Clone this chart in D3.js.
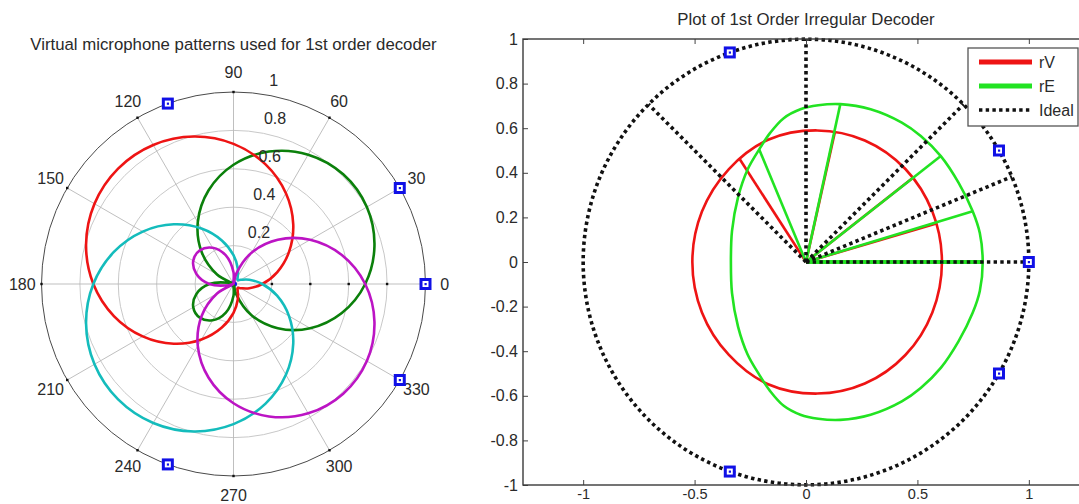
<!DOCTYPE html>
<html>
<head>
<meta charset="utf-8">
<title>1st order decoder</title>
<script src="https://cdn.jsdelivr.net/npm/d3@7"></script>
<style>
  html, body { margin: 0; padding: 0; background: #fff; }
  svg { display: block; font-family: "Liberation Sans", Arial, sans-serif; }
</style>
</head>
<body>
<div id="chart"></div>
<script>
  /**
   *  Data
   */
  // speaker layout in degrees (C, L, LS, RS, R)
  var speakerAngles = [0, 30, 110, 250, 330]

  // polar grid
  var ringValues = [0.2, 0.4, 0.6, 0.8, 1]
  var spokeAngles = [0, 30, 60, 90, 120, 150, 180, 210, 240, 270, 300, 330]

  // virtual microphone patterns, [angle deg, |gain|]
  var micC = [[0, 0.012], [90, 0.012], [180, 0.012], [270, 0.012]]
  var micL = [[0, 0.686], [15, 0.760], [30, 0.802], [45, 0.808], [60, 0.778], [75, 0.714],
    [90, 0.621], [105, 0.504], [120, 0.372], [135, 0.234], [150, 0.099], [162, 0],
    [165, 0.024], [180, 0.126], [195, 0.200], [210, 0.242], [225, 0.248], [240, 0.218],
    [255, 0.154], [270, 0.061], [278, 0], [285, 0.056], [300, 0.188], [315, 0.326],
    [330, 0.461], [345, 0.584]]
  var micR = [[0, 0.686], [15, 0.584], [30, 0.461], [45, 0.326], [60, 0.188], [75, 0.056],
    [82, 0], [90, 0.061], [105, 0.154], [120, 0.218], [135, 0.248], [150, 0.242],
    [165, 0.200], [180, 0.126], [195, 0.024], [198, 0], [210, 0.099], [225, 0.234],
    [240, 0.372], [255, 0.504], [270, 0.621], [285, 0.714], [300, 0.778], [315, 0.808],
    [330, 0.802], [345, 0.760]]
  var micLS = [[0, 0.150], [15, 0.235], [30, 0.334], [45, 0.440], [60, 0.546], [75, 0.645],
    [90, 0.730], [105, 0.795], [120, 0.836], [135, 0.850], [150, 0.836], [165, 0.795],
    [180, 0.730], [195, 0.645], [210, 0.546], [225, 0.440], [240, 0.334], [255, 0.235],
    [270, 0.150], [285, 0.085], [300, 0.044], [315, 0.030], [330, 0.044], [345, 0.085]]
  var micRS = [[0, 0.150], [15, 0.085], [30, 0.044], [45, 0.030], [60, 0.044], [75, 0.085],
    [90, 0.150], [105, 0.235], [120, 0.334], [135, 0.440], [150, 0.546], [165, 0.645],
    [180, 0.730], [195, 0.795], [210, 0.836], [225, 0.850], [240, 0.836], [255, 0.795],
    [270, 0.730], [285, 0.645], [300, 0.546], [315, 0.440], [330, 0.334], [345, 0.235]]

  // rV / rE vector end points over all source directions, [x, y]
  var rVCurve = [[0.61, 0], [0.567, 0.226], [0.446, 0.417], [0.264, 0.545], [0.05, 0.59],
    [-0.17, 0.548], [-0.346, 0.417], [-0.467, 0.226], [-0.51, 0], [-0.467, -0.226],
    [-0.346, -0.417], [-0.17, -0.548], [0.05, -0.59], [0.264, -0.545], [0.446, -0.417],
    [0.567, -0.226]]
  var rECurve = [[0.793, 0], [0.78, 0.13], [0.748, 0.228], [0.685, 0.355], [0.605, 0.475],
    [0.515, 0.565], [0.43, 0.625], [0.29, 0.685], [0.154, 0.708], [0.055, 0.703],
    [-0.025, 0.685], [-0.10, 0.645], [-0.16, 0.58], [-0.21, 0.505], [-0.262, 0.415],
    [-0.305, 0.29], [-0.332, 0.14], [-0.337, 0], [-0.332, -0.14], [-0.305, -0.29],
    [-0.262, -0.415], [-0.21, -0.505], [-0.16, -0.58], [-0.10, -0.645], [-0.025, -0.685],
    [0.055, -0.703], [0.154, -0.708], [0.29, -0.685], [0.43, -0.625], [0.515, -0.565],
    [0.605, -0.475], [0.685, -0.355], [0.748, -0.228], [0.78, -0.13]]

  // test source directions and their rV / rE vectors
  var testAngles = [0, 22.5, 45, 90, 135]
  var rVTest = [[0.61, 0], [0.585, 0.173], [0.48, 0.378], [0.13, 0.584], [-0.30, 0.465]]
  var rETest = [[0.793, 0], [0.748, 0.228], [0.605, 0.475], [0.154, 0.708], [-0.21, 0.505]]

  var xTicks = [-1, -0.5, 0, 0.5, 1]
  var yTicks = [-1, -0.8, -0.6, -0.4, -0.2, 0, 0.2, 0.4, 0.6, 0.8, 1]
  var legendLabels = ['rV', 'rE', 'Ideal']

  /**
   *  Settings
   */
  var setting = {
    width: 1079,
    height: 504,
    font: 16,
    titleFont: 16.8,
    textColor: '#2a2a2a',
    polar: {
      cx: 233.5,
      cy: 284,
      r: 192,
      title: 'Virtual microphone patterns used for 1st order decoder',
      titleY: 50,
      lineWidth: 2.6,
      colors: { C: '#1010ee', L: '#0b800b', LS: '#ee1414', RS: '#14bcbc', R: '#bc14c4' }
    },
    cart: {
      left: 523,
      right: 1089,
      top: 39,
      bottom: 485,
      xDomain: [-1.27, 1.27],
      title: 'Plot of 1st Order Irregular Decoder',
      titleY: 25,
      lineWidth: 2.6,
      xLabelFont: 14.5,
      rV: '#ee1414',
      rE: '#22e322'
    },
    dots: { width: 3.6, dash: '3.4 3.3', color: '#111' },
    speaker: { size: 9, color: '#1010e6' }
  }

  function attrs(sel, o) {
    Object.keys(o).forEach(function(k) { sel.attr(k, o[k]) })
  }

  /**
   *  blue square speaker marker
   */
  function addSpeaker(g, px, py) {
    var s = setting.speaker.size
    g.append('rect').call(attrs, {
      x: px - s / 2, y: py - s / 2, width: s, height: s,
      fill: '#fff', stroke: setting.speaker.color, 'stroke-width': 3
    })
    g.append('rect').call(attrs, {
      x: px - 1, y: py - 1, width: 2.2, height: 2.2, fill: setting.speaker.color
    })
  }

  /**
   *  left panel: polar plot of the virtual microphones
   */
  function drawPolar(svg) {
    var cfg = setting.polar
    var rScale = d3.scaleLinear().domain([0, 1]).range([0, cfg.r])
    function pt(deg, v) {
      var a = deg * Math.PI / 180
      return [rScale(v) * Math.cos(a), -rScale(v) * Math.sin(a)]
    }
    var g = svg.append('g').attr('transform', 'translate(' + cfg.cx + ',' + cfg.cy + ')')

    g.append('circle').call(attrs, { r: rScale(1), fill: '#fff' })

    // grid rings and spokes
    g.selectAll('.ring').data(ringValues).enter().append('circle')
      .call(attrs, {
        class: 'ring',
        r: function(d) { return rScale(d) },
        fill: 'none',
        stroke: function(d) { return d === 1 ? '#4a4a4a' : '#c2c2c2' },
        'stroke-width': function(d) { return d === 1 ? 1 : 0.9 }
      })
    g.selectAll('.spoke').data(spokeAngles).enter().append('line')
      .call(attrs, {
        class: 'spoke',
        x1: 0, y1: 0,
        x2: function(d) { return pt(d, 1)[0] },
        y2: function(d) { return pt(d, 1)[1] },
        stroke: '#b8b8b8', 'stroke-width': 0.9
      })

    // small tick dots
    var tickPts = spokeAngles.map(function(a) { return pt(a, 1) })
      .concat(ringValues.slice(0, 4).map(function(v) { return pt(0, v) }))
    g.selectAll('.tk').data(tickPts).enter().append('rect')
      .call(attrs, {
        x: function(d) { return d[0] - 1.2 }, y: function(d) { return d[1] - 1.2 },
        width: 2.4, height: 2.4, fill: '#111'
      })

    // patterns
    var radial = d3.lineRadial()
      .angle(function(d) { return Math.PI / 2 - d[0] * Math.PI / 180 })
      .radius(function(d) { return rScale(d[1]) })
      .curve(d3.curveCatmullRomClosed.alpha(0.5))
    var mics = [
      { key: 'C', pts: micC }, { key: 'L', pts: micL }, { key: 'LS', pts: micLS },
      { key: 'RS', pts: micRS }, { key: 'R', pts: micR }
    ]
    g.selectAll('.mic').data(mics).enter().append('path')
      .call(attrs, {
        class: 'mic',
        d: function(d) { return radial(d.pts) },
        fill: 'none',
        stroke: function(d) { return cfg.colors[d.key] },
        'stroke-width': cfg.lineWidth,
        'stroke-linejoin': 'round'
      })

    // ring labels at 82 deg
    g.selectAll('.rl').data(ringValues).enter().append('text')
      .call(attrs, {
        x: function(d) { return pt(82, d)[0] + 9 },
        y: function(d) { return pt(82, d)[1] - 8 },
        'font-size': setting.font, fill: setting.textColor
      })
      .text(function(d) { return String(d) })

    // angle labels
    g.selectAll('.al').data(spokeAngles).enter().append('text')
      .call(attrs, {
        x: function(d) { return pt(d, 1.1)[0] },
        y: function(d) { return pt(d, 1.1)[1] },
        'text-anchor': 'middle', 'dominant-baseline': 'central',
        'font-size': setting.font, fill: setting.textColor
      })
      .text(function(d) { return d })

    speakerAngles.forEach(function(a) {
      var p = pt(a, 1)
      addSpeaker(g, p[0], p[1])
    })

    svg.append('text')
      .call(attrs, {
        x: cfg.cx, y: cfg.titleY, 'text-anchor': 'middle',
        'font-size': setting.titleFont, fill: setting.textColor
      })
      .text(cfg.title)
  }

  /**
   *  right panel: rV / rE of the irregular decoder
   */
  function drawCart(svg) {
    var cfg = setting.cart
    var x = d3.scaleLinear().domain(cfg.xDomain).range([cfg.left, cfg.right])
    var y = d3.scaleLinear().domain([-1, 1]).range([cfg.bottom, cfg.top])
    var dots = setting.dots

    var line = d3.line()
      .x(function(d) { return x(d[0]) })
      .y(function(d) { return y(d[1]) })
      .curve(d3.curveCatmullRomClosed.alpha(0.5))

    var plot = svg.append('g')

    // rV then rE, ideal on top
    plot.selectAll('.rv-line').data(rVTest).enter().append('line')
      .call(attrs, {
        x1: x(0), y1: y(0),
        x2: function(d) { return x(d[0]) }, y2: function(d) { return y(d[1]) },
        stroke: cfg.rV, 'stroke-width': cfg.lineWidth
      })
    plot.append('path')
      .call(attrs, { d: line(rVCurve), fill: 'none', stroke: cfg.rV, 'stroke-width': cfg.lineWidth })

    plot.selectAll('.re-line').data(rETest).enter().append('line')
      .call(attrs, {
        x1: x(0), y1: y(0),
        x2: function(d) { return x(d[0]) }, y2: function(d) { return y(d[1]) },
        stroke: cfg.rE,
        'stroke-width': function(d) { return d[1] === 0 ? 4 : cfg.lineWidth }
      })
    plot.append('path')
      .call(attrs, { d: line(rECurve), fill: 'none', stroke: cfg.rE, 'stroke-width': cfg.lineWidth })

    plot.append('circle')
      .call(attrs, {
        cx: x(0), cy: y(0), r: x(1) - x(0), fill: 'none',
        stroke: dots.color, 'stroke-width': dots.width, 'stroke-dasharray': dots.dash
      })
    plot.selectAll('.ideal').data(testAngles).enter().append('line')
      .call(attrs, {
        x1: x(0), y1: y(0),
        x2: function(d) { return x(Math.cos(d * Math.PI / 180)) },
        y2: function(d) { return y(Math.sin(d * Math.PI / 180)) },
        stroke: dots.color, 'stroke-width': dots.width, 'stroke-dasharray': dots.dash
      })

    speakerAngles.forEach(function(a) {
      var r = a * Math.PI / 180
      addSpeaker(plot, x(Math.cos(r)), y(Math.sin(r)))
    })

    // axes, ticks pointing inwards
    var fmt = function(d) { return String(d) }
    var axL = svg.append('g').attr('transform', 'translate(' + cfg.left + ',0)')
      .call(d3.axisLeft(y).tickValues(yTicks).tickSize(-5).tickPadding(5).tickFormat(fmt))
    var axB = svg.append('g').attr('transform', 'translate(0,' + cfg.bottom + ')')
      .call(d3.axisBottom(x).tickValues(xTicks).tickSize(-5).tickPadding(5).tickFormat(fmt))
    var axT = svg.append('g').attr('transform', 'translate(0,' + cfg.top + ')')
      .call(d3.axisTop(x).tickValues(xTicks).tickSize(-5).tickFormat(''))
    ;[axL, axB, axT].forEach(function(a) {
      a.select('.domain').remove()
      a.selectAll('line').attr('stroke', '#444')
      a.selectAll('text').attr('font-size', setting.font).attr('fill', setting.textColor)
        .attr('font-family', '"Liberation Sans", Arial, sans-serif')
    })
    // keep the bottom labels inside the picture
    axB.selectAll('text').attr('font-size', cfg.xLabelFont).attr('dy', '0.6em')
    svg.append('rect')
      .call(attrs, {
        x: cfg.left, y: cfg.top, width: cfg.right - cfg.left, height: cfg.bottom - cfg.top,
        fill: 'none', stroke: '#3a3a3a', 'stroke-width': 1.4
      })

    // legend
    var lg = svg.append('g').attr('transform', 'translate(968,48)')
    lg.append('rect').call(attrs, {
      x: 0, y: 0, width: 110, height: 78, fill: '#fff', stroke: '#555', 'stroke-width': 1.3
    })
    var lgStyle = [
      { stroke: cfg.rV, w: 5, dash: null },
      { stroke: cfg.rE, w: 5, dash: null },
      { stroke: dots.color, w: dots.width, dash: dots.dash }
    ]
    legendLabels.forEach(function(t, i) {
      var ly = 14 + i * 24
      lg.append('line').call(attrs, {
        x1: 11, x2: 64, y1: ly, y2: ly,
        stroke: lgStyle[i].stroke, 'stroke-width': lgStyle[i].w,
        'stroke-dasharray': lgStyle[i].dash
      })
      lg.append('text').call(attrs, {
        x: 71, y: ly, 'dominant-baseline': 'central',
        'font-size': setting.font, fill: setting.textColor
      }).text(t)
    })

    svg.append('text')
      .call(attrs, {
        x: x(0), y: cfg.titleY, 'text-anchor': 'middle',
        'font-size': setting.titleFont, fill: setting.textColor
      })
      .text(cfg.title)
  }

  var svg = d3.select('#chart').append('svg')
    .attr('width', setting.width)
    .attr('height', setting.height)
    .style('background', '#fff')

  drawPolar(svg)
  drawCart(svg)
</script>
</body>
</html>
